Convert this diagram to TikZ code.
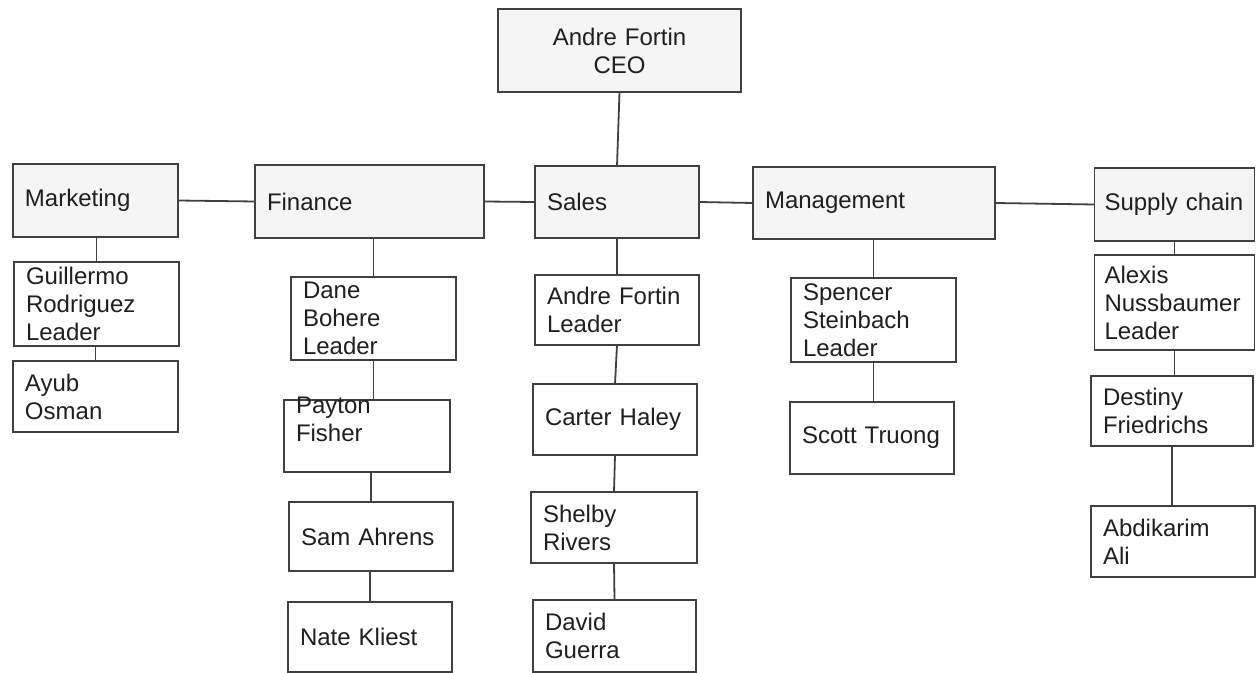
\documentclass[tikz,border=0pt]{standalone}
\usepackage{fontspec}
\setmainfont{Liberation Sans}
\begin{document}
\begin{tikzpicture}[x=0.5pt,y=-0.5pt,inner sep=0pt,outer sep=0pt,
unitbox/.style={draw=black!75,line width=0.9pt,rectangle,inner xsep=6pt,text=black!88,font=\fontsize{12}{14}\selectfont,align=left},
headbox/.style={unitbox,fill=black!4},
staffbox/.style={unitbox,fill=white},
link/.style={draw=black!75,line width=0.9pt}]
\useasboundingbox (0,0) rectangle (1256,673);
% top
\draw (619.5,50.5) node[headbox,text width=109.5pt,minimum height=41.5pt,align=center] (ceo) {Andre Fortin\\CEO};
% departments
\draw (95.5,200.5) node[headbox,text width=70.5pt,minimum height=36.5pt] (mkt) {Marketing};
\draw (369.5,201.5) node[headbox,text width=102.5pt,minimum height=36.5pt] (fin) {Finance};
\draw (617,202) node[headbox,text width=70pt,minimum height=36pt] (sales) {Sales};
\draw (874,203) node[headbox,text width=109pt,minimum height=36pt] (mgmt) {Management};
\draw (1174.5,204.5) node[headbox,inner xsep=5pt,text width=70pt,minimum height=36.5pt] (supply) {Supply chain};
% marketing
\draw (96.5,304) node[staffbox,text width=70.5pt,minimum height=42pt] (guillermo) {Guillermo\\Rodriguez\\Leader};
\draw (95.5,396.5) node[staffbox,text width=70.5pt,minimum height=35.5pt] (ayub) {Ayub\\Osman};
% finance
\draw (373.5,318.5) node[staffbox,text width=70.5pt,minimum height=41.5pt] (dane) {Dane\\Bohere\\Leader};
\draw (367,436) node[staffbox,text width=71pt,minimum height=36pt,text height=5pt,text depth=28pt] (payton) {Payton\\Fisher};
\draw (371,536.5) node[staffbox,text width=70pt,minimum height=34.5pt] (sam) {Sam Ahrens};
\draw (370,637) node[staffbox,text width=70pt,minimum height=35pt] (nate) {Nate Kliest};
% sales
\draw (617,310) node[staffbox,text width=70pt,minimum height=35pt] (andre) {Andre Fortin\\Leader};
\draw (615,419.5) node[staffbox,text width=70pt,minimum height=35.5pt] (carter) {Carter Haley};
\draw (614,527.5) node[staffbox,text width=71pt,minimum height=35.5pt] (shelby) {Shelby\\Rivers};
\draw (614.5,636) node[staffbox,text width=69.5pt,minimum height=36pt] (david) {David\\Guerra};
% management
\draw (873.5,320) node[staffbox,text width=70.5pt,minimum height=42pt] (spencer) {Spencer\\Steinbach\\Leader};
\draw (872,438) node[staffbox,text width=70pt,minimum height=36pt] (scott) {Scott Truong};
% supply chain
\draw (1174.5,302.5) node[staffbox,inner xsep=5pt,text width=70pt,minimum height=47.5pt] (alexis) {Alexis\\Nussbaumer\\Leader};
\draw (1172,411) node[staffbox,text width=69pt,minimum height=35pt] (destiny) {Destiny\\Friedrichs};
\draw (1173,541.5) node[staffbox,text width=70pt,minimum height=35.5pt] (abdikarim) {Abdikarim\\Ali};
% links
\draw[link] (ceo.south) -- (sales.north);
\draw[link] (mkt.east) -- (fin.west);
\draw[link] (fin.east) -- (sales.west);
\draw[link] (sales.east) -- (mgmt.west);
\draw[link] (mgmt.east) -- (supply.west);
\draw[link] (guillermo.north) -- (guillermo.north |- mkt.south);
\draw[link] (ayub.north) -- (ayub.north |- guillermo.south);
\draw[link] (dane.north) -- (dane.north |- fin.south);
\draw[link] (payton.north -| dane.south) -- (dane.south);
\draw[link] (sam.north) -- (sam.north |- payton.south);
\draw[link] (nate.north) -- (nate.north |- sam.south);
\draw[link] (andre.north) -- (andre.north |- sales.south);
\draw[link] (andre.south) -- (carter.north);
\draw[link] (carter.south) -- (shelby.north);
\draw[link] (shelby.south) -- (david.north);
\draw[link] (spencer.north) -- (spencer.north |- mgmt.south);
\draw[link] (scott.north -| spencer.south) -- (spencer.south);
\draw[link] (alexis.north) -- (alexis.north |- supply.south);
\draw[link] (destiny.north -| alexis.south) -- (alexis.south);
\draw[link] (abdikarim.north -| destiny.south) -- (destiny.south);
\end{tikzpicture}
\end{document}
